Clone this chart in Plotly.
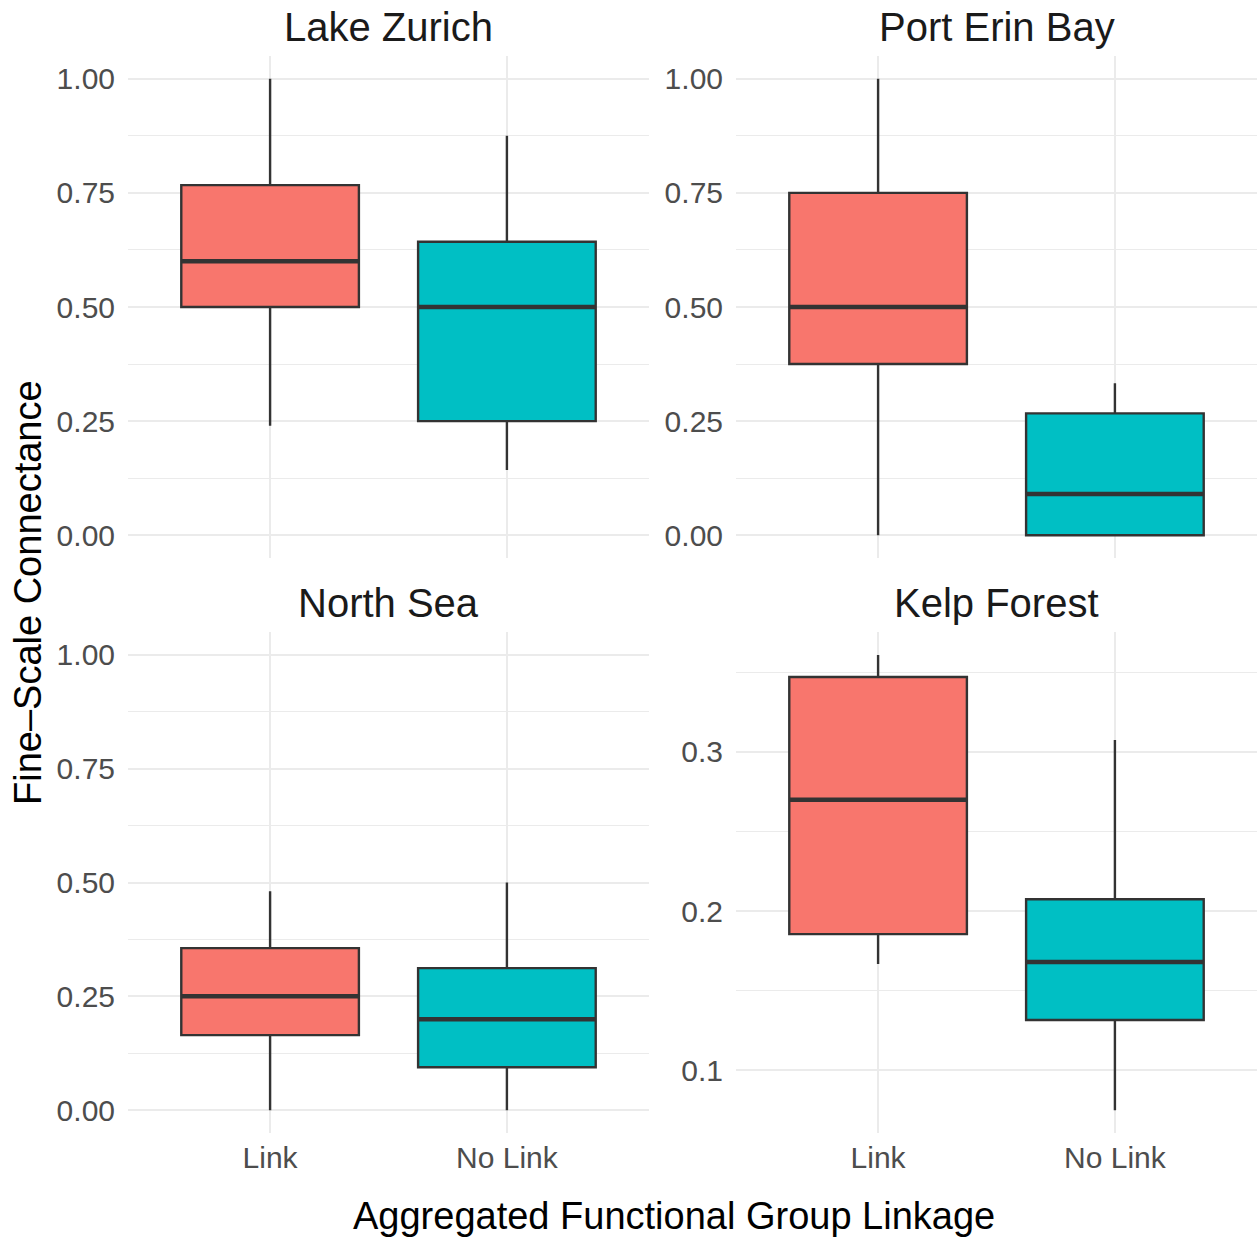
import plotly.graph_objects as go

# ---- data ----
categories = ["Link", "No Link"]
panels = ["Lake Zurich", "Port Erin Bay", "North Sea", "Kelp Forest"]

lower_whisker = {
    "Lake Zurich":   [0.240, 0.143],
    "Port Erin Bay": [0.000, 0.000],
    "North Sea":     [0.000, 0.000],
    "Kelp Forest":   [0.1668, 0.075],
}
q1_vals = {
    "Lake Zurich":   [0.500, 0.250],
    "Port Erin Bay": [0.375, 0.000],
    "North Sea":     [0.165, 0.0945],
    "Kelp Forest":   [0.1856, 0.1317],
}
median_vals = {
    "Lake Zurich":   [0.600, 0.500],
    "Port Erin Bay": [0.500, 0.090],
    "North Sea":     [0.250, 0.200],
    "Kelp Forest":   [0.270, 0.168],
}
q3_vals = {
    "Lake Zurich":   [0.767, 0.643],
    "Port Erin Bay": [0.750, 0.267],
    "North Sea":     [0.356, 0.312],
    "Kelp Forest":   [0.347, 0.2075],
}
upper_whisker = {
    "Lake Zurich":   [1.000, 0.875],
    "Port Erin Bay": [1.000, 0.333],
    "North Sea":     [0.481, 0.500],
    "Kelp Forest":   [0.3608, 0.3075],
}

fill_colors = ["#F8766D", "#00BFC4"]
line_color = "#333333"
box_width = 0.75

W, H = 1258, 1239
FONT = "Liberation Sans, Arial, Helvetica, sans-serif"

# panel pixel boxes (left, right, top, bottom)
pix = {
    "Lake Zurich":   (128, 649, 56, 558),
    "Port Erin Bay": (736, 1257, 56, 558),
    "North Sea":     (128, 649, 632, 1133),
    "Kelp Forest":   (736, 1257, 632, 1133),
}
y_settings = {
    "Lake Zurich":   dict(range=[-0.05, 1.05], dtick=0.25, minor=0.125, fmt=".2f"),
    "Port Erin Bay": dict(range=[-0.05, 1.05], dtick=0.25, minor=0.125, fmt=".2f"),
    "North Sea":     dict(range=[-0.05, 1.05], dtick=0.25, minor=0.125, fmt=".2f"),
    "Kelp Forest":   dict(range=[0.0607, 0.3753], dtick=0.1, minor=0.05, fmt=".1f"),
}

fig = go.Figure()
layout = {}
annotations = []

for idx, p in enumerate(panels):
    n = idx + 1
    xa = "x" if n == 1 else f"x{n}"
    ya = "y" if n == 1 else f"y{n}"
    l, r, t, b = pix[p]
    xdom = [l / W, r / W]
    ydom = [(H - b) / H, (H - t) / H]
    bottom_row = p in ("North Sea", "Kelp Forest")

    for i, cat in enumerate(categories):
        fig.add_trace(go.Box(
            x=[i], q1=[q1_vals[p][i]], median=[median_vals[p][i]], q3=[q3_vals[p][i]],
            lowerfence=[lower_whisker[p][i]], upperfence=[upper_whisker[p][i]],
            width=box_width, whiskerwidth=0, boxpoints=False,
            fillcolor=fill_colors[i], line=dict(color=line_color, width=2.4),
            xaxis=xa, yaxis=ya, showlegend=False, name=cat, hoverinfo="skip",
        ))
        fig.add_trace(go.Scatter(
            x=[i - box_width / 2, i + box_width / 2],
            y=[median_vals[p][i], median_vals[p][i]],
            mode="lines", line=dict(color=line_color, width=4.5),
            xaxis=xa, yaxis=ya, showlegend=False, hoverinfo="skip",
        ))

    ys = y_settings[p]
    layout["xaxis" if n == 1 else f"xaxis{n}"] = dict(
        domain=xdom, anchor=ya, range=[-0.6, 1.6],
        tickvals=[0, 1], ticktext=categories, showticklabels=bottom_row,
        showgrid=True, gridcolor="#EBEBEB", gridwidth=2, zeroline=False,
        showline=False, ticks="", ticklabelstandoff=4,
        tickfont=dict(family=FONT, size=30, color="#4D4D4D"),
    )
    layout["yaxis" if n == 1 else f"yaxis{n}"] = dict(
        domain=ydom, anchor=xa, range=ys["range"], dtick=ys["dtick"], tick0=0,
        tickformat=ys["fmt"], showgrid=True, gridcolor="#EBEBEB", gridwidth=2,
        zeroline=False, showline=False, ticks="", ticklabelstandoff=12,
        tickfont=dict(family=FONT, size=30, color="#4D4D4D"),
        minor=dict(dtick=ys["minor"], tick0=0, showgrid=True, gridcolor="#EBEBEB", gridwidth=1),
    )
    annotations.append(dict(
        text=p, xref="paper", yref="paper", x=(l + r) / 2 / W, y=(H - (t - 29)) / H,
        xanchor="center", yanchor="middle", showarrow=False,
        font=dict(family=FONT, size=40, color="#1A1A1A"),
    ))

annotations.append(dict(
    text="Aggregated Functional Group Linkage", xref="paper", yref="paper",
    x=674 / W, y=(H - 1216) / H, xanchor="center", yanchor="middle", showarrow=False,
    font=dict(family=FONT, size=38, color="#000000"),
))
annotations.append(dict(
    text="Fine\u2013Scale Connectance", xref="paper", yref="paper",
    x=28 / W, y=(H - 593) / H, xanchor="center", yanchor="middle", showarrow=False,
    textangle=-90, font=dict(family=FONT, size=38, color="#000000"),
))

fig.update_layout(
    width=W, height=H, margin=dict(l=0, r=0, t=0, b=0),
    paper_bgcolor="white", plot_bgcolor="white",
    annotations=annotations, showlegend=False, **layout,
)

fig.write_html(
    "out.html",
    config={"displayModeBar": False},
    post_script="document.body.style.margin='0';document.body.style.padding='0';",
)
